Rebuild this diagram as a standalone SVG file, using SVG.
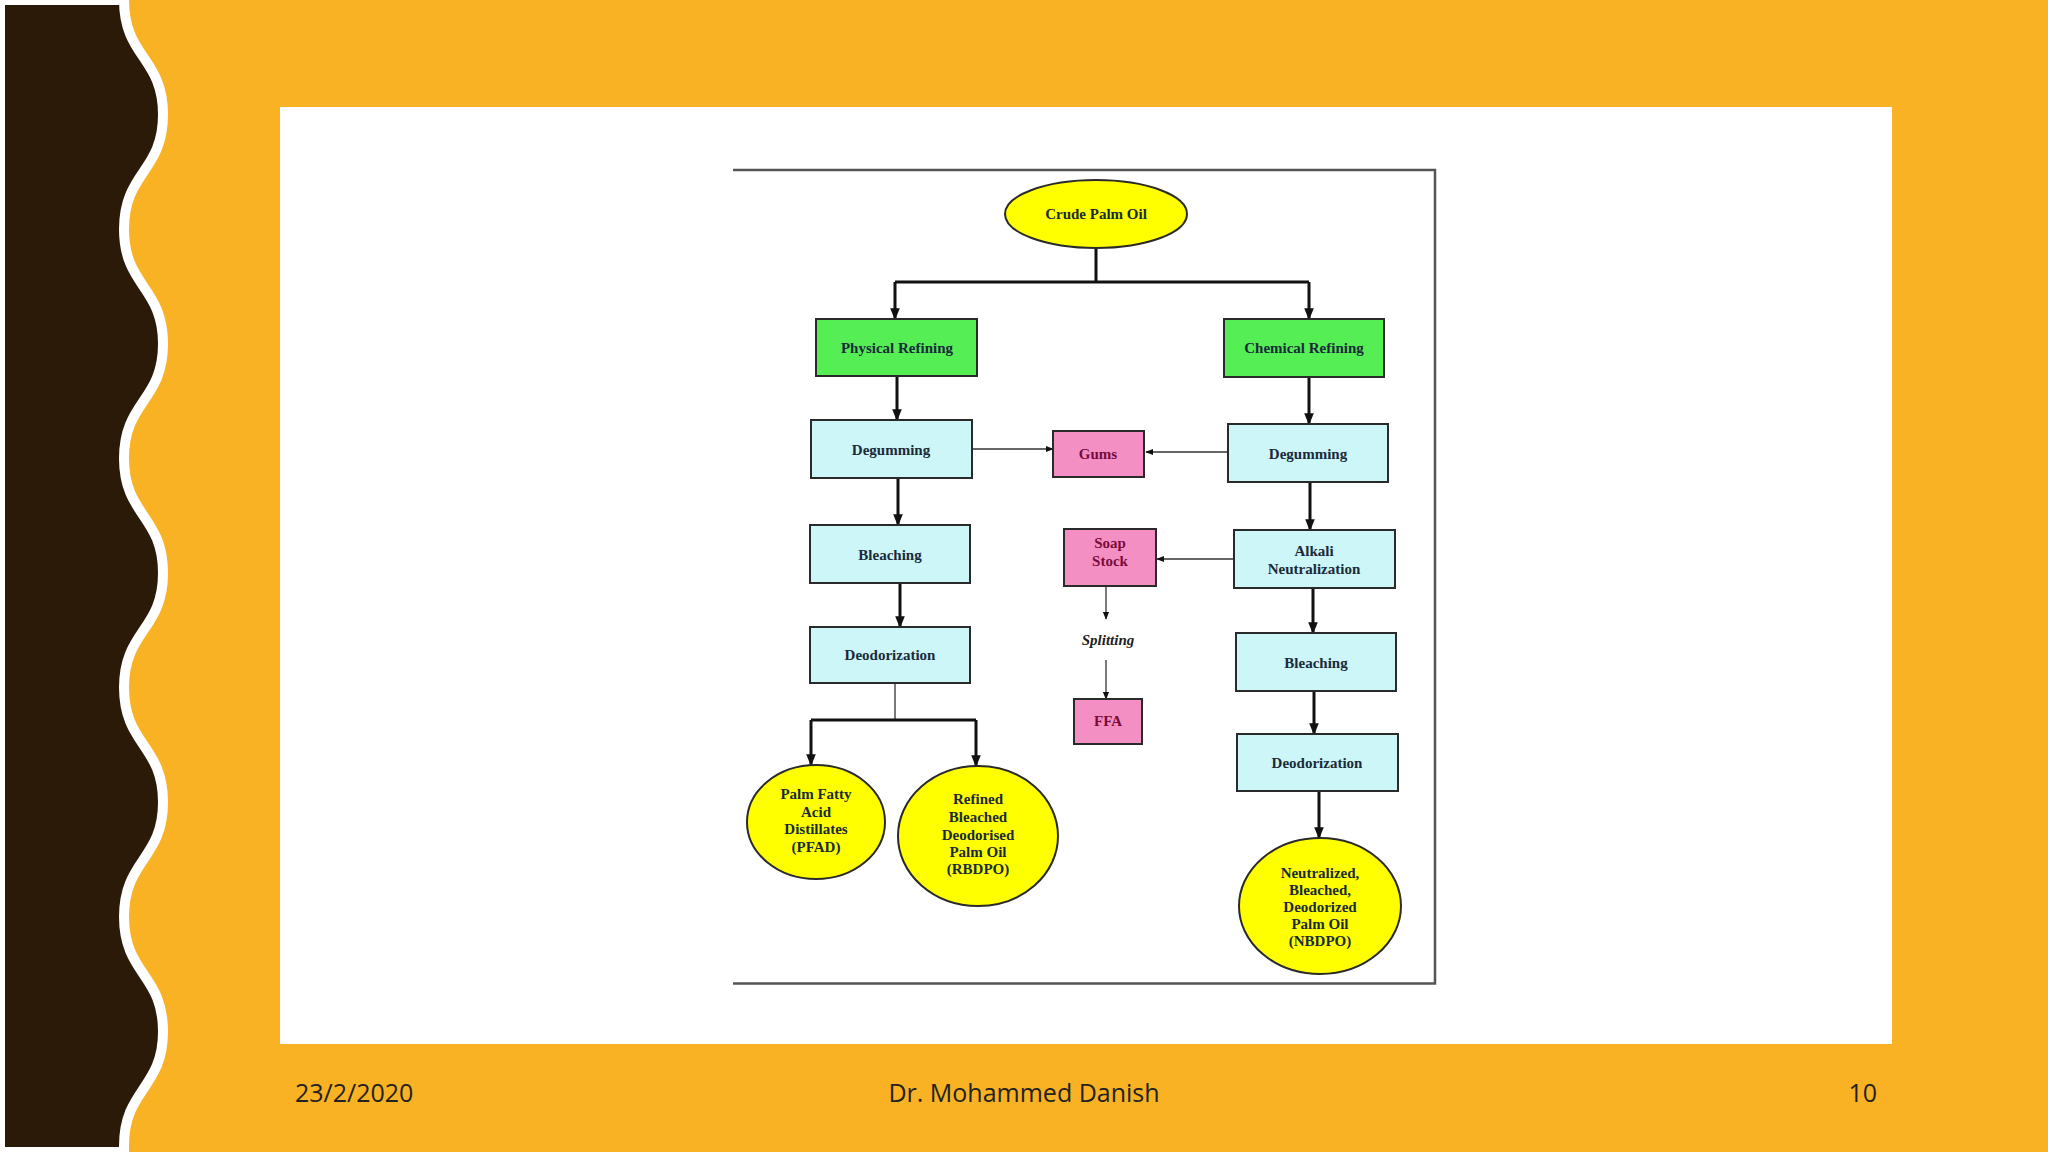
<svg xmlns="http://www.w3.org/2000/svg" width="2048" height="1152" viewBox="0 0 2048 1152">
<defs>
<style>
.box{stroke:#2a2a2a;stroke-width:2}
.proc{fill:#CCF6F8}
.ref{fill:#55EE55}
.pink{fill:#F48FC4}
.oval{fill:#FFFF00;stroke:#2a2a2a;stroke-width:2}
.t{font-family:"Liberation Serif",serif;font-weight:bold;font-size:15px;text-anchor:middle;fill:#1a2a3a}
.tr{fill:#7a0a3a}
.ln{stroke:#111;stroke-width:3;fill:none}
.thin{stroke:#333;stroke-width:1.3;fill:none}
.foot{font-family:"Open Sans",sans-serif;font-size:25px;fill:#222}
</style>
<marker id="a" viewBox="0 0 10 10" refX="9" refY="5" markerWidth="4" markerHeight="4" orient="auto"><path d="M0,1 L10,5 L0,9 z" fill="#111"/></marker>
<marker id="b" viewBox="0 0 10 10" refX="9" refY="5" markerWidth="6" markerHeight="6" orient="auto"><path d="M0,1 L10,5 L0,9 z" fill="#111"/></marker>
</defs>
<rect width="2048" height="1152" fill="#F9B224"/>
<path d="M0,0 H124 C124,57.3 163,57.3 163,114.6 C163,171.9 124,171.9 124,229.2 C124,286.5 163,286.5 163,343.8 C163,401.1 124,401.1 124,458.4 C124,515.7 163,515.7 163,573 C163,630.3 124,630.3 124,687.6 C124,744.9 163,744.9 163,802.2 C163,859.5 124,859.5 124,916.8 C124,974.1 163,974.1 163,1031.4 C163,1088.7 124,1088.7 124,1146 L124,1152 H0 Z" fill="#2B1A08" stroke="#FFFFFF" stroke-width="10"/>
<rect x="280" y="107" width="1612" height="937" fill="#FFFFFF"/>
<path d="M733,170 H1435 V983.5 H733" fill="none" stroke="#555" stroke-width="2.5"/>

<g id="connectors">
<path class="ln" d="M1096,248 V282"/>
<path class="ln" d="M895,282 H1309"/>
<path class="ln" d="M895,282 V319" marker-end="url(#a)"/>
<path class="ln" d="M1309,282 V319" marker-end="url(#a)"/>
<path class="ln" d="M897,376 V420" marker-end="url(#a)"/>
<path class="ln" d="M898,478 V525" marker-end="url(#a)"/>
<path class="ln" d="M900,583 V627" marker-end="url(#a)"/>
<path class="thin" d="M895,683 V720"/>
<path class="ln" d="M811,720 H976"/>
<path class="ln" d="M811,720 V765" marker-end="url(#a)"/>
<path class="ln" d="M976,720 V766" marker-end="url(#a)"/>
<path class="thin" d="M972,449 H1053" marker-end="url(#b)"/>
<path class="thin" d="M1228,452 H1146" marker-end="url(#b)"/>
<path class="ln" d="M1309,377 V424" marker-end="url(#a)"/>
<path class="ln" d="M1310,482 V530" marker-end="url(#a)"/>
<path class="ln" d="M1313,588 V633" marker-end="url(#a)"/>
<path class="ln" d="M1314,691 V734" marker-end="url(#a)"/>
<path class="ln" d="M1319,791 V838" marker-end="url(#a)"/>
<path class="thin" d="M1234,559 H1157" marker-end="url(#b)"/>
<path class="thin" d="M1106,586 V619" marker-end="url(#b)"/>
<path class="thin" d="M1106,660 V699" marker-end="url(#b)"/>
</g>

<g id="crude"><ellipse class="oval" cx="1096" cy="214" rx="91" ry="34"/><text class="t" x="1096" y="219">Crude Palm Oil</text></g>
<g id="physical"><rect class="box ref" x="816" y="319" width="161" height="57"/><text class="t" x="897" y="353">Physical Refining</text></g>
<g id="chemical"><rect class="box ref" x="1224" y="319" width="160" height="58"/><text class="t" x="1304" y="353">Chemical Refining</text></g>
<g id="degumL"><rect class="box proc" x="811" y="420" width="161" height="58"/><text class="t" x="891" y="455">Degumming</text></g>
<g id="gums"><rect class="box pink" x="1053" y="431" width="91" height="46"/><text class="t tr" x="1098" y="459">Gums</text></g>
<g id="degumR"><rect class="box proc" x="1228" y="424" width="160" height="58"/><text class="t" x="1308" y="459">Degumming</text></g>
<g id="bleachL"><rect class="box proc" x="810" y="525" width="160" height="58"/><text class="t" x="890" y="560">Bleaching</text></g>
<g id="soap"><rect class="box pink" x="1064" y="529" width="92" height="57"/><text class="t tr" x="1110" y="548">Soap</text><text class="t tr" x="1110" y="566">Stock</text></g>
<g id="alkali"><rect class="box proc" x="1234" y="530" width="161" height="58"/><text class="t" x="1314" y="556">Alkali</text><text class="t" x="1314" y="574">Neutralization</text></g>
<g id="deodL"><rect class="box proc" x="810" y="627" width="160" height="56"/><text class="t" x="890" y="660">Deodorization</text></g>
<g id="splitting"><text class="t" x="1108" y="645" style="font-style:italic;fill:#222">Splitting</text></g>
<g id="ffa"><rect class="box pink" x="1074" y="699" width="68" height="45"/><text class="t tr" x="1108" y="726">FFA</text></g>
<g id="bleachR"><rect class="box proc" x="1236" y="633" width="160" height="58"/><text class="t" x="1316" y="668">Bleaching</text></g>
<g id="deodR"><rect class="box proc" x="1237" y="734" width="161" height="57"/><text class="t" x="1317" y="768">Deodorization</text></g>
<g id="pfad"><ellipse class="oval" cx="816" cy="822" rx="69" ry="57"/><text class="t" x="816" y="799">Palm Fatty</text><text class="t" x="816" y="817">Acid</text><text class="t" x="816" y="834">Distillates</text><text class="t" x="816" y="852">(PFAD)</text></g>
<g id="rbdpo"><ellipse class="oval" cx="978" cy="836" rx="80" ry="70"/><text class="t" x="978" y="804">Refined</text><text class="t" x="978" y="822">Bleached</text><text class="t" x="978" y="840">Deodorised</text><text class="t" x="978" y="857">Palm Oil</text><text class="t" x="978" y="874">(RBDPO)</text></g>
<g id="nbdpo"><ellipse class="oval" cx="1320" cy="906" rx="81" ry="68"/><text class="t" x="1320" y="878">Neutralized,</text><text class="t" x="1320" y="895">Bleached,</text><text class="t" x="1320" y="912">Deodorized</text><text class="t" x="1320" y="929">Palm Oil</text><text class="t" x="1320" y="946">(NBDPO)</text></g>

<text class="foot" x="295" y="1102">23/2/2020</text>
<text class="foot" x="1024" y="1102" text-anchor="middle">Dr. Mohammed Danish</text>
<text class="foot" x="1877" y="1102" text-anchor="end">10</text>
</svg>
